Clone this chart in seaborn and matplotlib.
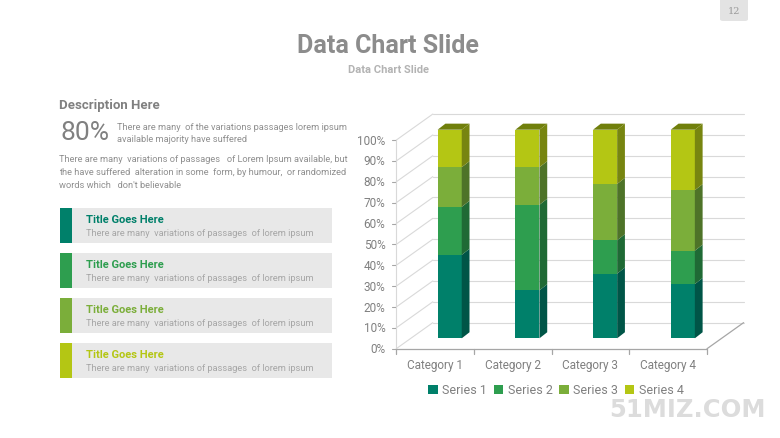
import numpy as np
import pandas as pd
import seaborn as sns
import matplotlib.pyplot as plt
from matplotlib.patches import Rectangle, Polygon, FancyBboxPatch, Patch

# data (percent of each column)
categories = ['Category 1', 'Category 2', 'Category 3', 'Category 4']
series_names = ['Series 1', 'Series 2', 'Series 3', 'Series 4']
series1 = [40, 23, 31, 26]
series2 = [23, 41, 16, 16]
series3 = [19, 18, 27, 29]
series4 = [18, 18, 26, 29]
yticks = [0, 10, 20, 30, 40, 50, 60, 70, 80, 90, 100]
ytick_labels = [f'{v}%' for v in yticks]

front_colors = ['#00806a', '#2e9e4f', '#7bae3a', '#b4c614']
side_colors = ['#005547', '#1f6a35', '#4e7328', '#778510']
top_color = '#707f0b'
grey_txt = '#808080'

sns.set_theme(style='white')
plt.rcParams['font.family'] = ['Roboto', 'DejaVu Sans']

W, H = 780, 439
fig = plt.figure(figsize=(W / 100, H / 100), dpi=100)
fig.patch.set_facecolor('white')


def fx(px):
    return px / W


def fy(py):
    return 1 - py / H


# '''--------------------- chart (bar plane = data coords) ---------------------'''
ax = fig.add_axes([fx(410.85), fy(339.3), 310.8 / W, 208.6 / H])

df = pd.DataFrame({'category': categories, 'Series 1': series1, 'Series 2': series2,
                   'Series 3': series3, 'Series 4': series4})
cum = df[series_names].cumsum(axis=1)

bar_w = 0.31
for k in reversed(range(4)):
    sns.barplot(x=df['category'], y=cum[series_names[k]], color=front_colors[k],
                saturation=1, width=bar_w, errorbar=None, linewidth=0, zorder=3, ax=ax)

ax.set_xlim(-0.5, 3.5)
ax.set_ylim(0, 100)
ax.axis('off')

# 3d look: depth of the box and of each bar
depth_x, depth_y = 0.471, 12.5
f = 0.4
fdx, fdy = -f * depth_x, -f * depth_y          # front plane offset
bdx, bdy = (1 - f) * depth_x, (1 - f) * depth_y  # back wall offset
bx, by = 0.1, 2.9

grid_c = '#d9d9d9'
axis_c = '#a6a6a6'
x0, x1 = -0.5, 3.5
for v, lab in zip(yticks, ytick_labels):
    ax.plot([x0 + fdx, x0 + bdx], [v + fdy, v + bdy], color=grid_c, lw=0.8, zorder=1, clip_on=False)
    ax.plot([x0 + bdx, x1 + bdx], [v + bdy, v + bdy], color=grid_c, lw=0.8, zorder=1, clip_on=False)
    ax.plot([x0 + fdx - 0.06, x0 + fdx], [v + fdy, v + fdy], color=axis_c, lw=0.8, zorder=1, clip_on=False)
    ax.text(x0 + fdx - 0.14, v + fdy, lab, ha='right', va='center', fontsize=8.5,
            color=grey_txt)

ax.plot([x0 + fdx, x0 + fdx], [fdy, 100 + fdy], color=grid_c, lw=0.8, zorder=1, clip_on=False)
ax.plot([x0 + fdx, x1 + fdx], [fdy, fdy], color=axis_c, lw=0.9, zorder=2, clip_on=False)
ax.plot([x1 + fdx, x1 + bdx], [fdy, bdy], color=axis_c, lw=0.9, zorder=2, clip_on=False)
for b in np.arange(x0, x1 + 0.01, 1.0):
    ax.plot([b + fdx, b + fdx], [fdy, fdy - 2.6], color=axis_c, lw=0.9, zorder=2, clip_on=False)

for i, cat in enumerate(categories):
    ax.text(i + fdx, fdy - 7.6, cat, ha='center', va='center', fontsize=8.5, color=grey_txt)
    left, right = i - bar_w / 2, i + bar_w / 2
    for k in range(4):
        bottom = 0 if k == 0 else cum.iloc[i, k - 1]
        top = cum.iloc[i, k]
        ax.add_patch(Polygon([(right, bottom), (right + bx, bottom + by), (right + bx, top + by),
                              (right, top)], closed=True, facecolor=side_colors[k],
                             edgecolor='none', zorder=4, clip_on=False))
    top = cum.iloc[i, 3]
    ax.add_patch(Polygon([(left, top), (left + bx, top + by), (right + bx, top + by), (right, top)],
                         closed=True, facecolor=top_color, edgecolor='none', zorder=4, clip_on=False))

handles = [Patch(facecolor=c, edgecolor='none') for c in front_colors]
fig.legend(handles, series_names, loc='center', bbox_to_anchor=(fx(556), fy(391)), ncol=4,
           frameon=False, fontsize=9, labelcolor=grey_txt, handlelength=0.75, handleheight=0.75,
           handletextpad=0.35, columnspacing=0.55)

# '''--------------------- header ---------------------'''
fig.text(fx(388), fy(46), 'Data Chart Slide', ha='center', va='center', fontsize=18,
         fontweight='bold', color='#8c8c8c')
fig.text(fx(388), fy(70), 'Data Chart Slide', ha='center', va='center', fontsize=8,
         fontweight='bold', color='#b3b3b3')
fig.add_artist(FancyBboxPatch((fx(720), fy(22)), fx(28), 24 / H, boxstyle='round,pad=0,rounding_size=0.004',
                              transform=fig.transFigure, facecolor='#e3e3e3', edgecolor='none'))
fig.text(fx(734), fy(12), '12', ha='center', va='center', fontsize=7, color='#9a9a9a',
         family='DejaVu Serif')

# '''--------------------- left description ---------------------'''
fig.text(fx(59), fy(105), 'Description Here', ha='left', va='center', fontsize=9.5,
         fontweight='bold', color=grey_txt)
fig.text(fx(60), fy(133), '80%', ha='left', va='center', fontsize=19, color=grey_txt)
small = dict(ha='left', va='center', fontsize=6.7, color='#8f8f8f')
fig.text(fx(117), fy(127), 'There are many  of the variations passages lorem ipsum', **small)
fig.text(fx(117), fy(140), 'available majority have suffered', **small)
para = ['There are many  variations of passages   of Lorem Ipsum available, but',
        'the have suffered  alteration in some  form, by humour,  or randomized',
        "words which   don't believable"]
for j, line in enumerate(para):
    fig.text(fx(59), fy(160 + 13 * j), line, **small)

box_tops = [209.3, 254.3, 299.3, 344.3]
for c, top in zip(front_colors, box_tops):
    fig.add_artist(Rectangle((fx(60), fy(top + 35)), fx(272), 35 / H, transform=fig.transFigure,
                             facecolor='#e8e8e8', edgecolor='none'))
    fig.add_artist(Rectangle((fx(60), fy(top + 35)), fx(11.5), 35 / H, transform=fig.transFigure,
                             facecolor=c, edgecolor='none'))
    fig.text(fx(86.5), fy(top + 11), 'Title Goes Here', ha='left', va='center', fontsize=8,
             fontweight='bold', color=c)
    fig.text(fx(86.5), fy(top + 24), 'There are many  variations of passages  of lorem ipsum',
             ha='left', va='center', fontsize=6.7, color='#a6a6a6')

# watermark
fig.text(fx(687), fy(410), '51MIZ.COM', ha='center', va='center', fontsize=17.5,
         fontweight='bold', color='#dcdcdc', family='DejaVu Sans')

fig.savefig('out.png', dpi=100)
